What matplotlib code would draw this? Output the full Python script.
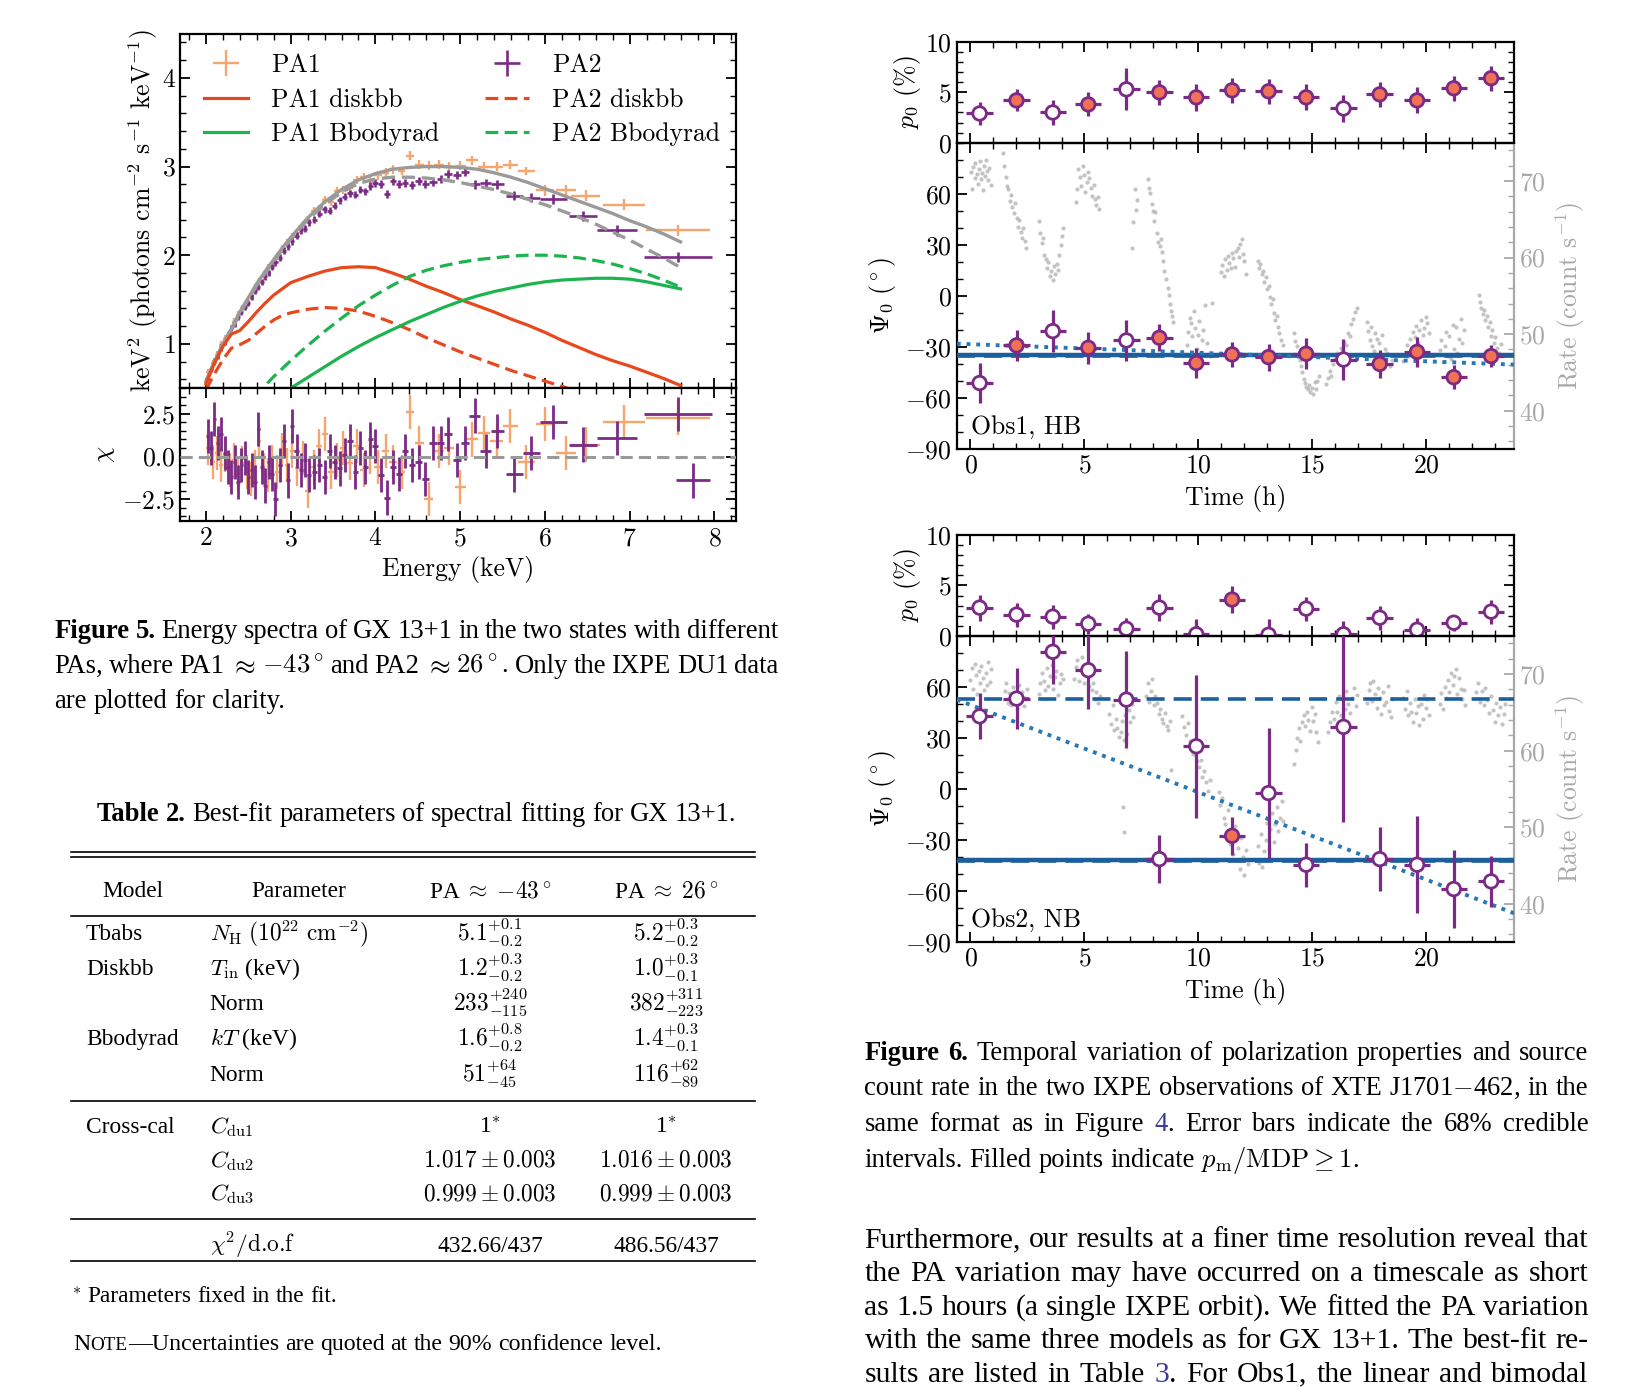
import re

import matplotlib
matplotlib.use('Agg')
import matplotlib.pyplot as plt
from matplotlib.lines import Line2D
from matplotlib.ticker import MultipleLocator

# ---------------- Figure 5: spectra of GX 13+1 ----------------
pa1_e = [2.03, 2.08, 2.13, 2.18, 2.23, 2.28, 2.33, 2.38, 2.43, 2.48, 2.53, 2.58, 2.63, 2.68, 2.73, 2.78,
         2.84, 2.90, 2.96, 3.02, 3.08, 3.14, 3.20, 3.27, 3.34, 3.41, 3.48, 3.55, 3.62, 3.70, 3.78, 3.86,
         3.94, 4.03, 4.12, 4.21, 4.31, 4.41, 4.52, 4.63, 4.75, 4.87, 5.00, 5.14, 5.28, 5.43, 5.59, 5.78,
         6.00, 6.25, 6.48, 6.93, 7.57]
pa1_ew = [0.025, 0.025, 0.025, 0.025, 0.025, 0.025, 0.025, 0.025, 0.025, 0.025, 0.025, 0.025, 0.025, 0.025,
          0.025, 0.025, 0.03, 0.03, 0.03, 0.03, 0.03, 0.03, 0.03, 0.035, 0.035, 0.035, 0.035, 0.035, 0.035,
          0.04, 0.04, 0.04, 0.04, 0.045, 0.045, 0.045, 0.045, 0.045, 0.055, 0.055, 0.055, 0.055, 0.065,
          0.07, 0.075, 0.08, 0.09, 0.1, 0.11, 0.12, 0.17, 0.25, 0.38]
pa1_flux = [0.68, 0.78, 0.88, 0.99, 1.06, 1.12, 1.25, 1.33, 1.40, 1.47, 1.53, 1.63, 1.70, 1.76, 1.86, 1.90,
            1.99, 2.07, 2.14, 2.21, 2.25, 2.34, 2.40, 2.50, 2.52, 2.62, 2.60, 2.72, 2.74, 2.76, 2.85, 2.88,
            2.84, 2.90, 2.93, 2.97, 2.95, 3.12, 3.02, 3.01, 3.02, 3.00, 3.01, 3.07, 3.00, 3.00, 3.02, 2.95,
            2.73, 2.73, 2.67, 2.57, 2.28]
pa1_ferr = [0.04, 0.04, 0.04, 0.04, 0.04, 0.04, 0.04, 0.04, 0.04, 0.04, 0.04, 0.04, 0.04, 0.04, 0.04, 0.04,
            0.04, 0.04, 0.04, 0.04, 0.045, 0.045, 0.045, 0.045, 0.045, 0.045, 0.045, 0.045, 0.045, 0.045,
            0.045, 0.045, 0.045, 0.05, 0.05, 0.05, 0.05, 0.05, 0.05, 0.05, 0.05, 0.05, 0.05, 0.05, 0.05,
            0.05, 0.05, 0.05, 0.06, 0.06, 0.06, 0.06, 0.06]
pa1_chi = [0.5, -0.3, 0.2, -0.5, 0.1, -0.8, -0.2, -1.0, -0.4, -0.9, -1.3, -0.6, 0.9, -0.8, -1.1, -0.3,
           -0.9, 0.4, -0.5, 0.3, -0.7, -0.1, -2.0, -0.6, 0.6, 1.3, -0.9, -0.2, 0.5, -0.4, 0.6, -0.8,
           0.0, -0.6, 0.3, -0.3, -0.9, 2.6, 0.8, -2.5, 0.3, 0.5, -1.8, 1.0, 1.4, 0.9, 1.8, -0.3,
           1.9, 0.2, 0.7, 2.0, 2.25]

pa2_e = [2.02, 2.06, 2.10, 2.14, 2.18, 2.22, 2.26, 2.30, 2.34, 2.38, 2.42, 2.46, 2.50, 2.54, 2.58, 2.62,
         2.66, 2.70, 2.74, 2.78, 2.82, 2.87, 2.92, 2.97, 3.02, 3.07, 3.12, 3.17, 3.22, 3.28, 3.34, 3.40,
         3.46, 3.52, 3.58, 3.64, 3.70, 3.76, 3.82, 3.88, 3.94, 4.00, 4.07, 4.14, 4.21, 4.28, 4.35, 4.43,
         4.51, 4.59, 4.68, 4.77, 4.86, 4.96, 5.06, 5.17, 5.30, 5.44, 5.64, 5.84, 6.10, 6.45, 6.85, 7.57]
pa2_ew = [0.02, 0.02, 0.02, 0.02, 0.02, 0.02, 0.02, 0.02, 0.02, 0.02, 0.02, 0.02, 0.02, 0.02, 0.02, 0.02,
          0.02, 0.02, 0.02, 0.02, 0.025, 0.025, 0.025, 0.025, 0.025, 0.025, 0.025, 0.025, 0.025, 0.03,
          0.03, 0.03, 0.03, 0.03, 0.03, 0.03, 0.03, 0.03, 0.03, 0.03, 0.03, 0.035, 0.035, 0.035, 0.035,
          0.035, 0.035, 0.035, 0.045, 0.045, 0.045, 0.045, 0.045, 0.045, 0.05, 0.06, 0.065, 0.08, 0.1,
          0.1, 0.16, 0.17, 0.24, 0.4]
pa2_flux = [0.62, 0.72, 0.80, 0.86, 0.96, 1.02, 1.10, 1.18, 1.22, 1.30, 1.36, 1.42, 1.46, 1.53, 1.60, 1.64,
            1.70, 1.76, 1.80, 1.87, 1.92, 1.97, 2.05, 2.10, 2.16, 2.22, 2.28, 2.30, 2.37, 2.40, 2.47, 2.52,
            2.50, 2.56, 2.62, 2.66, 2.70, 2.68, 2.74, 2.72, 2.78, 2.82, 2.80, 2.69, 2.84, 2.80, 2.82, 2.79,
            2.84, 2.80, 2.83, 2.86, 2.92, 2.90, 2.94, 2.80, 2.81, 2.80, 2.67, 2.65, 2.63, 2.44, 2.28, 1.98]
pa2_ferr = [0.035, 0.035, 0.035, 0.035, 0.035, 0.035, 0.035, 0.035, 0.035, 0.035, 0.035, 0.035, 0.035,
            0.035, 0.035, 0.035, 0.035, 0.035, 0.035, 0.035, 0.04, 0.04, 0.04, 0.04, 0.04, 0.04, 0.04, 0.04,
            0.04, 0.04, 0.04, 0.04, 0.04, 0.04, 0.04, 0.04, 0.04, 0.04, 0.04, 0.04, 0.045, 0.045, 0.045,
            0.045, 0.045, 0.045, 0.045, 0.045, 0.045, 0.045, 0.045, 0.045, 0.045, 0.045, 0.05, 0.05, 0.05,
            0.05, 0.05, 0.05, 0.055, 0.055, 0.06, 0.06]
pa2_chi = [1.2, 0.5, 2.2, 0.8, 1.3, 0.2, -0.6, -1.2, -0.3, -1.5, -0.5, -0.1, -1.2, -0.8, -1.5, 1.6,
           -0.6, -1.7, -0.3, -1.0, -2.5, -0.5, 0.9, -1.4, 1.8, 0.3, -0.8, -0.2, -1.1, -0.9, -0.5, -1.2,
           0.3, -0.3, -0.7, 0.1, 0.9, -0.9, 0.5, -0.6, 1.0, 0.6, -1.1, -2.4, -0.6, -1.0, 0.3, -0.5,
           -0.3, -1.3, 0.8, 0.8, 1.3, -0.2, 0.8, 2.4, 0.3, 1.5, -1.05, 0.2, 2.0, 0.7, 1.1, 2.5]
# one more PA2 residual bin at the top end
pa2_chi_e = pa2_e + [7.75]
pa2_chi_ew = pa2_ew + [0.2]
pa2_chi_v = pa2_chi + [-1.4]

model_e = [2.0, 2.1, 2.2, 2.3, 2.4, 2.5, 2.6, 2.7, 2.8, 2.9, 3.0, 3.2, 3.4, 3.6, 3.8, 4.0, 4.2, 4.4, 4.6,
           4.8, 5.0, 5.2, 5.4, 5.6, 5.8, 6.0, 6.2, 6.4, 6.6, 6.8, 7.0, 7.2, 7.4, 7.6]
pa1_total = [0.58, 0.80, 1.00, 1.17, 1.36, 1.52, 1.68, 1.82, 1.95, 2.08, 2.20, 2.42, 2.60, 2.74, 2.85, 2.92,
             2.97, 2.99, 3.00, 3.00, 2.99, 2.97, 2.93, 2.88, 2.82, 2.75, 2.68, 2.61, 2.54, 2.47, 2.39, 2.32,
             2.24, 2.15]
pa2_total = [0.56, 0.78, 0.98, 1.15, 1.34, 1.50, 1.66, 1.80, 1.93, 2.06, 2.18, 2.40, 2.57, 2.71, 2.81, 2.86,
             2.88, 2.88, 2.87, 2.85, 2.82, 2.78, 2.74, 2.69, 2.63, 2.57, 2.50, 2.43, 2.35, 2.26, 2.17, 2.07,
             1.97, 1.86]
pa1_disk = [0.55, 0.78, 0.97, 1.11, 1.15, 1.25, 1.36, 1.46, 1.55, 1.62, 1.69, 1.76, 1.82, 1.86, 1.87, 1.86,
            1.80, 1.73, 1.65, 1.58, 1.50, 1.43, 1.36, 1.28, 1.21, 1.13, 1.04, 0.96, 0.88, 0.81, 0.75, 0.68,
            0.61, 0.53]
pa2_disk = [0.48, 0.66, 0.82, 0.95, 0.99, 1.04, 1.12, 1.20, 1.27, 1.32, 1.35, 1.39, 1.41, 1.40, 1.37, 1.31,
            1.24, 1.16, 1.07, 0.99, 0.91, 0.84, 0.77, 0.70, 0.64, 0.58, 0.52, 0.46, 0.41, 0.36, 0.32, 0.28,
            0.25, 0.22]
pa1_bb = [0.02, 0.04, 0.07, 0.10, 0.14, 0.19, 0.25, 0.31, 0.37, 0.43, 0.50, 0.62, 0.74, 0.86, 0.97, 1.07,
          1.16, 1.25, 1.33, 1.41, 1.48, 1.54, 1.59, 1.63, 1.67, 1.70, 1.72, 1.73, 1.74, 1.74, 1.73, 1.70,
          1.66, 1.62]
pa2_bb = [0.05, 0.09, 0.15, 0.21, 0.28, 0.35, 0.42, 0.53, 0.63, 0.72, 0.81, 0.98, 1.14, 1.29, 1.43, 1.55,
          1.66, 1.76, 1.83, 1.88, 1.92, 1.95, 1.97, 1.99, 2.00, 2.00, 1.99, 1.97, 1.94, 1.90, 1.85, 1.79,
          1.72, 1.64]

# ---------------- Figure 6: XTE J1701-462 time resolved ----------------
bin_t = [0.40, 2.02, 3.61, 5.17, 6.84, 8.29, 9.91, 11.48, 13.08, 14.73, 16.37, 17.96, 19.60, 21.21, 22.85]
bin_terr = [0.58, 0.58, 0.58, 0.58, 0.58, 0.58, 0.58, 0.58, 0.58, 0.58, 0.58, 0.58, 0.58, 0.58, 0.58]

obs1_p0 = [2.9, 4.2, 3.0, 3.8, 5.3, 5.0, 4.5, 5.2, 5.1, 4.5, 3.4, 4.8, 4.2, 5.4, 6.4]
obs1_p0_err = [1.1, 1.1, 1.2, 1.2, 2.1, 1.25, 1.35, 1.25, 1.25, 1.3, 1.3, 1.25, 1.3, 1.25, 1.25]
obs1_psi = [-51.2, -29.1, -20.7, -30.5, -26.2, -24.6, -39.4, -34.4, -36.0, -34.0, -37.4, -40.0, -32.9, -47.8, -35.4]
obs1_psi_err = [12, 9, 12.5, 9.5, 12, 8, 9, 7.5, 8, 9, 12, 8, 9, 7, 6.5]
obs1_filled = [0, 1, 0, 1, 0, 1, 1, 1, 1, 1, 0, 1, 1, 1, 1]

obs2_p0 = [2.8, 2.1, 1.9, 1.2, 0.7, 2.8, 0.15, 3.6, 0.1, 2.7, 0.15, 1.8, 0.6, 1.3, 2.4]
obs2_p0_err = [1.3, 1.2, 1.2, 1.0, 1.1, 1.35, 1.5, 1.3, 1.6, 1.2, 1.3, 1.2, 1.2, 0.8, 1.2]
obs2_psi = [42.7, 53.1, 80.6, 69.8, 52.5, -41.2, 25.1, -27.5, -2.4, -44.5, 36.5, -41.2, -44.5, -58.8, -54.3]
obs2_psi_err = [13.5, 18, 19, 23, 28.5, 14, 42, 11, 38, 13, 56, 19, 28.6, 23, 15]
obs2_filled = [0, 0, 0, 0, 0, 0, 0, 1, 0, 0, 0, 0, 0, 0, 0]

# model fits: constant (solid), bimodal (dashed), linear (dotted, end points)
obs1_const = -34.6
obs1_bimodal = [-35.4]
obs2_const = -42.0
obs2_bimodal = [53.0, -42.6]
lin_t = [-0.6, 23.85]
obs1_lin = [-28.1, -40.4]
obs2_lin = [52.5, -73.0]

# light curves (count rate)
lc1_t = [0.02, 0.08, 0.13, 0.18, 0.22, 0.27, 0.32, 0.36, 0.41, 0.46, 0.50, 0.55, 0.60, 0.64, 0.69, 0.74, 0.78,
         0.83, 0.88,
         1.42, 1.48, 1.55, 1.60, 1.66, 1.72, 1.78, 1.84, 1.90, 1.96, 2.02, 2.08, 2.14, 2.20, 2.26, 2.32, 2.38, 2.44,
         3.00, 3.06, 3.12, 3.18, 3.24, 3.30, 3.36, 3.42, 3.48, 3.54, 3.60, 3.66, 3.72, 3.78, 3.84, 3.90, 3.96,
         4.02, 4.08,
         4.62, 4.68, 4.74, 4.80, 4.86, 4.92, 4.98, 5.04, 5.10, 5.16, 5.22, 5.28, 5.34, 5.40, 5.46, 5.52, 5.58, 5.64,
         7.10, 7.15, 7.20, 7.25, 7.30, 7.80, 7.85, 7.90, 7.95, 8.00, 8.05, 8.10, 8.20, 8.25, 8.30, 8.35, 8.40,
         8.45, 8.50, 8.60, 8.65, 8.70, 8.75, 8.80, 8.85, 8.90,
         9.50, 9.56, 9.62, 9.68, 9.74, 9.80, 9.86, 9.92, 9.98, 10.04, 10.10, 10.16, 10.22, 10.30, 10.40, 10.50, 10.60,
         11.00, 11.06, 11.12, 11.18, 11.24, 11.30, 11.36, 11.42, 11.48, 11.54, 11.60, 11.66, 11.72, 11.78, 11.84,
         11.90, 11.96, 12.02, 12.10,
         12.60, 12.66, 12.72, 12.78, 12.84, 12.90, 12.96, 13.02, 13.08, 13.14, 13.20, 13.26, 13.32, 13.38, 13.44,
         13.50, 13.56, 13.62, 13.70,
         14.20, 14.26, 14.32, 14.38, 14.44, 14.50, 14.56, 14.62, 14.68, 14.74, 14.80, 14.86, 14.92, 14.98, 15.04,
         15.10, 15.16, 15.22, 15.30,
         15.60, 15.68, 15.76, 15.84, 15.92, 16.00, 16.08, 16.16, 16.24, 16.32, 16.40, 16.48, 16.56, 16.64, 16.72,
         16.80, 16.88, 16.96,
         17.40, 17.46, 17.52, 17.58, 17.64, 17.70, 17.76, 17.82, 17.88, 17.94, 18.00, 18.06, 18.12, 18.20, 18.30,
         18.40, 18.50,
         19.00, 19.07, 19.14, 19.21, 19.28, 19.35, 19.42, 19.49, 19.56, 19.63, 19.70, 19.77, 19.84, 19.91, 19.98,
         20.05, 20.12,
         20.60, 20.67, 20.74, 20.81, 20.88, 20.95, 21.02, 21.09, 21.16, 21.23, 21.30, 21.37, 21.44, 21.51, 21.58,
         21.65,
         22.30, 22.36, 22.42, 22.48, 22.54, 22.60, 22.66, 22.72, 22.78, 22.84, 22.90, 22.96, 23.02, 23.10, 23.20,
         23.30]
lc1_r = [71.2, 69.0, 71.8, 70.4, 72.3, 70.9, 69.6, 71.5, 72.6, 70.2, 71.0, 68.8, 71.9, 70.6, 72.8, 71.3, 70.1,
         71.7, 69.5,
         73.6, 71.9, 70.5, 69.3, 68.9, 67.4, 68.2, 66.6, 65.8, 67.1, 65.2, 64.0, 64.9, 63.3, 62.6, 63.8, 62.1, 61.2,
         64.8, 63.2, 61.9, 62.6, 60.4, 59.8, 58.6, 59.4, 57.6, 58.3, 57.1, 58.9, 57.8, 59.2, 58.4, 60.3, 61.6,
         62.8, 63.9,
         67.2, 68.9, 71.6, 70.5, 69.4, 72.0, 70.8, 68.6, 69.9, 71.2, 70.4, 69.1, 68.0, 69.5, 67.6, 66.9, 67.9, 66.4,
         61.3, 64.6, 68.9, 66.2, 67.5, 70.3, 69.1, 68.4, 67.0, 66.1, 64.8, 65.9, 63.2, 62.0, 61.5, 62.4, 60.7,
         59.6, 58.3, 57.2, 56.0, 55.1, 53.9, 53.0, 52.4, 51.6,
         48.6, 50.3, 52.1, 51.4, 49.7, 53.0, 50.8, 48.1, 49.9, 51.7, 47.6, 49.2, 50.6, 53.8, 48.8, 47.2, 54.1,
         58.1, 59.0, 57.6, 59.8, 58.4, 60.2, 59.3, 58.7, 60.6, 59.9, 58.8, 60.9, 61.3, 60.1, 61.8, 62.4, 60.5,
         59.6, 57.8,
         59.6, 58.7, 59.2, 57.9, 58.3, 56.8, 57.4, 55.9, 56.3, 54.8, 53.9, 54.6, 52.7, 51.8, 52.4, 50.9, 50.1,
         49.3, 48.6,
         50.2, 49.1, 48.4, 47.3, 46.6, 45.8, 45.1, 44.2, 43.6, 43.1, 42.8, 43.4, 42.5, 43.0, 42.2, 43.7, 42.9,
         43.9, 44.6,
         43.5, 44.3, 45.2, 44.6, 46.1, 46.8, 47.5, 46.3, 48.2, 47.9, 49.0, 48.6, 50.1, 49.7, 51.3, 52.0, 52.9, 53.4,
         51.6, 50.4, 49.2, 51.0, 48.5, 47.8, 50.1, 49.4, 46.9, 48.8, 47.2, 49.9, 46.4, 48.1, 47.6, 45.8, 46.6,
         46.5, 47.3, 48.6, 47.1, 49.4, 48.2, 50.3, 49.6, 51.1, 48.8, 50.6, 51.9, 49.9, 50.8, 52.3, 51.5, 50.1,
         47.9, 49.2, 46.4, 48.5, 50.3, 47.1, 49.8, 46.8, 51.2, 48.1, 50.9, 47.6, 49.4, 52.0, 48.9, 50.6,
         55.1, 54.2, 53.4, 52.6, 53.1, 51.8, 52.4, 50.9, 51.6, 49.8, 50.5, 48.9, 49.6, 48.2, 47.6, 48.7]

lc2_t = [0.00, 0.06, 0.12, 0.18, 0.24, 0.30, 0.36, 0.42, 0.48, 0.54, 0.60, 0.66, 0.72, 0.78, 0.84, 0.90,
         1.50, 1.57, 1.64, 1.71, 1.78, 1.85, 1.92, 1.99, 2.06, 2.13, 2.20, 2.27, 2.34, 2.41, 2.48,
         3.00, 3.07, 3.14, 3.21, 3.28, 3.35, 3.42, 3.49, 3.56, 3.63, 3.70, 3.77, 3.84, 3.91, 3.98, 4.05,
         4.55, 4.62, 4.69, 4.76, 4.83, 4.90, 4.97, 5.04, 5.11, 5.18, 5.25, 5.32, 5.39, 5.46, 5.53, 5.60, 5.67,
         6.10, 6.17, 6.24, 6.31, 6.38, 6.45, 6.52, 6.59, 6.66, 6.73, 6.80, 6.87, 6.94, 7.01, 7.08, 7.15, 6.70, 6.75,
         7.70, 7.77, 7.84, 7.91, 7.98, 8.05, 8.12, 8.19, 8.26, 8.33, 8.40, 8.47, 8.54, 8.61, 8.68, 8.75, 8.80,
         9.30, 9.38, 9.46, 9.54, 9.62, 9.70, 9.78, 9.86, 9.94, 10.02, 10.10, 10.18, 10.26, 10.34, 10.42, 10.50,
         10.90, 10.97, 11.04, 11.11, 11.18, 11.25, 11.32, 11.39, 11.46, 11.53, 11.60, 11.67, 11.74, 11.81, 11.88,
         11.95, 12.02, 12.09, 12.16,
         12.60, 12.67, 12.74, 12.81, 12.88, 12.95, 13.02, 13.09, 13.16, 13.23, 13.30, 13.37, 13.44, 13.51, 13.58,
         13.65, 13.72,
         14.20, 14.27, 14.34, 14.41, 14.48, 14.55, 14.62, 14.69, 14.76, 14.83, 14.90, 14.97, 15.04, 15.11, 15.18,
         15.25,
         15.70, 15.78, 15.86, 15.94, 16.02, 16.10, 16.18, 16.26, 16.34, 16.42, 16.50, 16.58, 16.66, 16.74, 16.82,
         16.90, 16.98,
         17.40, 17.47, 17.54, 17.61, 17.68, 17.75, 17.82, 17.89, 17.96, 18.03, 18.10, 18.17, 18.24, 18.31, 18.38,
         18.45, 18.52,
         19.00, 19.07, 19.14, 19.21, 19.28, 19.35, 19.42, 19.49, 19.56, 19.63, 19.70, 19.77, 19.84, 19.91, 19.98,
         20.05, 20.12,
         20.60, 20.67, 20.74, 20.81, 20.88, 20.95, 21.02, 21.09, 21.16, 21.23, 21.30, 21.37, 21.44, 21.51, 21.58,
         21.65, 21.72,
         22.20, 22.28, 22.36, 22.44, 22.52, 22.60, 22.68, 22.76, 22.84, 22.92, 23.00, 23.08, 23.16, 23.24, 23.32,
         23.40, 23.48]
lc2_r = [69.2, 70.8, 68.1, 71.3, 69.9, 67.4, 70.4, 68.8, 71.0, 69.5, 67.9, 70.1, 68.6, 71.6, 69.0, 70.7,
         67.8, 68.9, 66.2, 67.5, 65.9, 68.3, 66.8, 67.1, 65.4, 68.6, 66.5, 67.7, 65.8, 66.9, 68.1,
         67.4, 68.8, 70.2, 69.1, 67.9, 70.8, 68.5, 69.7, 71.2, 68.1, 69.6, 70.4, 67.3, 68.9, 70.0, 69.3,
         69.4, 70.9, 71.8, 69.1, 70.5, 72.2, 68.8, 70.1, 71.3, 68.4, 69.7, 67.9, 68.9, 66.8, 67.6, 66.2, 67.1,
         64.8, 63.5, 65.9, 62.7, 64.1, 63.0, 61.8, 62.5, 63.9, 61.4, 64.6, 62.2, 65.3, 63.7, 66.1, 64.4, 52.6, 49.4,
         67.2, 68.9, 66.4, 67.8, 69.3, 65.9, 67.1, 66.2, 64.8, 65.5, 64.1, 63.6, 64.9, 63.2, 62.7, 63.9, 57.5,
         64.5, 63.1, 62.0, 63.6, 61.2, 60.4, 59.6, 60.9, 58.7, 57.9, 58.8, 56.5, 57.3, 55.9, 54.8, 56.2,
         54.6, 52.9, 53.8, 51.2, 50.4, 49.1, 52.3, 47.8, 48.9, 46.5, 50.2, 45.7, 47.3, 44.6, 48.6, 46.1, 43.8,
         47.0, 45.2,
         47.5, 45.3, 49.1, 44.8, 46.9, 48.4, 50.6, 47.2, 49.8, 51.9, 48.1, 50.4, 52.6, 49.5, 51.2, 53.4, 50.8,
         58.2, 60.1, 61.7, 62.9, 61.3, 63.8, 64.6, 63.2, 65.1, 64.0, 62.6, 65.7, 63.9, 64.8, 62.4, 61.1,
         62.4, 63.8, 65.1, 64.2, 66.3, 65.0, 67.1, 64.6, 66.7, 65.5, 67.8, 66.1, 64.9, 66.9, 68.2, 65.8, 67.3,
         66.2, 67.9, 68.8, 66.5, 69.1, 67.4, 65.6, 68.2, 66.9, 64.8, 67.7, 65.9, 66.4, 68.5, 65.2, 64.4, 66.8,
         66.9, 65.4, 67.8, 64.6, 66.2, 65.1, 63.8, 66.7, 64.9, 65.8, 63.4, 66.1, 64.2, 67.3, 65.6, 66.8, 64.7,
         66.1, 67.5, 65.4, 68.3, 66.9, 69.2, 67.7, 70.1, 68.6, 69.8, 70.6, 67.4, 69.5, 68.1, 66.8, 67.9, 65.9,
         67.6, 68.9, 66.4, 67.8, 65.9, 68.2, 66.6, 64.9, 67.1, 65.3, 63.8, 66.2, 64.6, 65.7, 63.5, 64.8, 66.1]

# ---------------- Table 2 ----------------
tab_model = ['Tbabs', 'Diskbb', '', 'Bbodyrad', '', 'Cross-cal', '', '', '']
tab_param = [r'$N_{\rm H}$ $(10^{22}\ {\rm cm}^{-2})$', r'$T_{\rm in}$ (keV)', 'Norm', r'$kT$ (keV)', 'Norm',
             r'$C_{\rm du1}$', r'$C_{\rm du2}$', r'$C_{\rm du3}$', r'$\chi^2/$d.o.f']
tab_pa1 = [r'$5.1^{+0.1}_{-0.2}$', r'$1.2^{+0.3}_{-0.2}$', r'$233^{+240}_{-115}$', r'$1.6^{+0.8}_{-0.2}$',
           r'$51^{+64}_{-45}$', r'1$^{*}$', r'$1.017 \pm 0.003$', r'$0.999 \pm 0.003$', '432.66/437']
tab_pa2 = [r'$5.2^{+0.3}_{-0.2}$', r'$1.0^{+0.3}_{-0.1}$', r'$382^{+311}_{-223}$', r'$1.4^{+0.3}_{-0.1}$',
           r'$116^{+62}_{-89}$', r'1$^{*}$', r'$1.016 \pm 0.003$', r'$0.999 \pm 0.003$', '486.56/437']
tab_head = ['Model', 'Parameter', r'PA $\approx$ $-43^\circ$', r'PA $\approx$ $26^\circ$']

# colours
C_PA1 = '#f5a56e'
C_PA2 = '#7b2a85'
C_DISK = '#e8481e'
C_BB = '#1db34f'
C_TOT = '#9a9a9a'
C_FIT = '#1c5e9e'
C_DOT = '#2878b6'
C_FILL = '#f07155'
C_RATE = '#b4b4b4'
C_LINK = '#3a3a9c'

plt.rcParams['font.family'] = 'cmr10'
plt.rcParams['mathtext.fontset'] = 'cm'
plt.rcParams['axes.formatter.use_mathtext'] = True
plt.rcParams['font.size'] = 18.5
plt.rcParams['axes.linewidth'] = 1.6

FS = 18.5
W, H = 1567.0, 1322.0   # page layout units


def X(x):
    return x / W


def Y(y):
    return 1 - y / H


def box(x0, y0, x1, y1):
    return [X(x0), Y(y1), X(x1) - X(x0), Y(y0) - Y(y1)]


def style(ax):
    ax.tick_params(which='both', direction='in', top=True, right=True, labelsize=FS)
    ax.tick_params(which='major', length=7, width=1.3)
    ax.tick_params(which='minor', length=4, width=1.0)


fig = plt.figure(figsize=(16.44, 13.87), dpi=100)
renderer = fig.canvas.get_renderer()
FIG_W = 1644.0

# ---- Figure 5 ----
ax1 = fig.add_axes(box(172, 32, 702, 370))
ax2 = fig.add_axes(box(172, 370, 702, 497), sharex=ax1)

h1 = ax1.errorbar(pa1_e, pa1_flux, xerr=pa1_ew, yerr=pa1_ferr, fmt='none', ecolor=C_PA1, elinewidth=1.7)
h2 = ax1.errorbar(pa2_e, pa2_flux, xerr=pa2_ew, yerr=pa2_ferr, fmt='none', ecolor=C_PA2, elinewidth=1.9)
ax1.plot(model_e, pa1_total, color=C_TOT, lw=2.4)
ax1.plot(model_e, pa2_total, color=C_TOT, lw=2.4, ls=(0, (4, 2)))
l1, = ax1.plot(model_e, pa1_disk, color=C_DISK, lw=2.3)
l2, = ax1.plot(model_e, pa2_disk, color=C_DISK, lw=2.3, ls=(0, (4, 2)))
l3, = ax1.plot(model_e, pa1_bb, color=C_BB, lw=2.3)
l4, = ax1.plot(model_e, pa2_bb, color=C_BB, lw=2.3, ls=(0, (4, 2)))
ax1.legend([h1, l1, l3, h2, l2, l4],
           ['PA1', 'PA1 diskbb', 'PA1 Bbodyrad', 'PA2', 'PA2 diskbb', 'PA2 Bbodyrad'],
           ncol=2, loc='upper left', bbox_to_anchor=(0.01, 0.995), frameon=False, fontsize=FS,
           handlelength=1.7, handletextpad=0.9, columnspacing=1.8, labelspacing=0.42, borderaxespad=0.3)
ax1.set_ylim(0.5, 4.5)
ax1.set_xlim(1.7, 8.26)
ax1.yaxis.set_major_locator(MultipleLocator(1))
ax1.yaxis.set_minor_locator(MultipleLocator(0.2))
ax1.xaxis.set_major_locator(MultipleLocator(1))
ax1.xaxis.set_minor_locator(MultipleLocator(0.2))
style(ax1)
ax1.tick_params(labelbottom=False)
ax1.set_ylabel(r'keV$^2$ (photons cm$^{-2}$ s$^{-1}$ keV$^{-1}$)', fontsize=FS)
ax1.yaxis.set_label_coords(-0.037, 0.5)

ax2.errorbar(pa1_e, pa1_chi, xerr=pa1_ew, yerr=1, fmt='none', ecolor=C_PA1, elinewidth=1.7)
ax2.errorbar(pa2_chi_e, pa2_chi_v, xerr=pa2_chi_ew, yerr=1, fmt='none', ecolor=C_PA2, elinewidth=2.0)
ax2.axhline(0, color=C_TOT, lw=2.2, ls=(0, (4, 2)), zorder=5)
ax2.set_ylim(-3.8, 4.0)
ax2.yaxis.set_major_locator(MultipleLocator(2.5))
ax2.yaxis.set_minor_locator(MultipleLocator(0.5))
style(ax2)
ax2.set_ylabel(r'$\chi$', fontsize=FS)
ax2.yaxis.set_label_coords(-0.115, 0.5)
ax2.set_xlabel('Energy (keV)', fontsize=FS)
ax2.xaxis.set_label_coords(0.5, -0.26)


# ---- Figure 6 ----
def pol_panels(top, p0, p0err, psi, psierr, filled, lc_t, lc_r, const, bimod, lin, tag):
    axp = fig.add_axes(box(912, top, 1443, top + 96))
    axa = fig.add_axes(box(912, top + 96, 1443, top + 388), sharex=axp)
    axr = axa.twinx()
    axa.set_zorder(axr.get_zorder() + 1)
    axa.patch.set_visible(False)

    axr.scatter(lc_t, lc_r, s=9, color=C_RATE, alpha=0.8, lw=0)
    axr.set_ylim(35, 75)
    axr.yaxis.set_major_locator(MultipleLocator(10))
    axr.yaxis.set_minor_locator(MultipleLocator(2))
    axr.tick_params(which='both', direction='in', colors='#a8a8a8', labelsize=FS)
    axr.tick_params(which='major', length=7, width=1.3)
    axr.tick_params(which='minor', length=4, width=1.0)
    for s in ['left', 'top', 'bottom']:
        axr.spines[s].set_visible(False)
    axr.spines['right'].set_color('#a8a8a8')
    axr.set_ylabel(r'Rate (count s$^{-1}$)', color='#a8a8a8', fontsize=FS)
    axr.yaxis.set_label_coords(1.072, 0.5)

    fill = [C_FILL if f else 'white' for f in filled]
    for ax, v, e in [(axp, p0, p0err), (axa, psi, psierr)]:
        ax.errorbar(bin_t, v, xerr=bin_terr, yerr=e, fmt='none', ecolor=C_PA2, elinewidth=2.3, zorder=4)
        ax.scatter(bin_t, v, s=95, c=fill, edgecolors=C_PA2, linewidths=2.0, zorder=5)

    axa.axhline(const, color=C_FIT, lw=3.2, zorder=3)
    for b in bimod:
        axa.axhline(b, color=C_FIT, lw=2.6, ls=(0, (5, 2.5)), zorder=3)
    axa.plot(lin_t, lin, color=C_DOT, lw=2.8, ls=(0, (1, 1.5)), zorder=3)

    axp.set_ylim(0, 10)
    axp.yaxis.set_major_locator(MultipleLocator(5))
    axp.yaxis.set_minor_locator(MultipleLocator(1))
    style(axp)
    axp.tick_params(labelbottom=False)
    axp.set_ylabel(r'$p_0$ (%)', fontsize=FS)
    axp.yaxis.set_label_coords(-0.06, 0.5)

    axa.set_xlim(-0.6, 23.85)
    axa.set_ylim(-90, 90)
    axa.set_yticks([-90, -60, -30, 0, 30, 60])
    axa.yaxis.set_minor_locator(MultipleLocator(10))
    axa.xaxis.set_major_locator(MultipleLocator(5))
    axa.xaxis.set_minor_locator(MultipleLocator(1))
    axa.tick_params(which='both', direction='in', top=True, right=False, labelsize=FS)
    axa.tick_params(which='major', length=7, width=1.3)
    axa.tick_params(which='minor', length=4, width=1.0)
    axa.spines['right'].set_visible(False)
    axa.set_ylabel(r'$\Psi_0\ (^\circ)$', fontsize=FS)
    axa.yaxis.set_label_coords(-0.105, 0.5)
    axa.set_xlabel('Time (h)', fontsize=FS)
    axa.xaxis.set_label_coords(0.5, -0.117)
    axa.text(0.026, 0.05, tag, transform=axa.transAxes, fontsize=FS, va='baseline', zorder=6)


pol_panels(40, obs1_p0, obs1_p0_err, obs1_psi, obs1_psi_err, obs1_filled, lc1_t, lc1_r,
           obs1_const, obs1_bimodal, obs1_lin, 'Obs1, HB')
pol_panels(510, obs2_p0, obs2_p0_err, obs2_psi, obs2_psi_err, obs2_filled, lc2_t, lc2_r,
           obs2_const, obs2_bimodal, obs2_lin, 'Obs2, NB')

# ---- running text (captions, table, body) ----
TOKEN = re.compile(r'(?:\$[^$]*\$|[^\s$])+')


def text_line(parts, x0, yb, size, right=None, center=None):
    pieces = []
    trailing = False
    for s, kw in parts:
        for m in TOKEN.finditer(s):
            i = m.start()
            gap = s[i - 1] == ' ' if i > 0 else trailing
            pieces.append((m.group(), kw, gap and len(pieces) > 0))
        trailing = s.endswith(' ')
    arts, widths = [], []
    for word, kw, gap in pieces:
        props = dict(fontsize=size, family='Liberation Serif', math_fontfamily='cm', va='baseline')
        props.update(kw)
        t = fig.text(0, Y(yb), word, **props)
        arts.append(t)
        widths.append(t.get_window_extent(renderer).width / FIG_W)
    ngap = sum(1 for p in pieces if p[2])
    space = 0.25 * size * 100 / 72 / FIG_W
    x = X(x0)
    if right is not None and ngap:
        space = (X(right) - X(x0) - sum(widths)) / ngap
    if center is not None:
        x = X(center) - (sum(widths) + ngap * space) / 2
    for t, w, p in zip(arts, widths, pieces):
        if p[2]:
            x += space
        t.set_x(x)
        x += w


BOLD = {'fontweight': 'bold'}
BLUE = {'color': C_LINK}
CAP = 19.2
BODY = 21.4

text_line([('Figure 5.', BOLD), (' Energy spectra of GX 13+1 in the two states with different', {})],
          52, 608, CAP, right=742)
text_line([(r'PAs, where PA1 $\approx$ $-43^\circ$ and PA2 $\approx$ $26^\circ$. Only the IXPE DU1 data', {})],
          52, 641, CAP, right=742)
text_line([('are plotted for clarity.', {})], 52, 675, CAP)

text_line([('Table 2.', BOLD), (' Best-fit parameters of spectral fitting for GX 13+1.', {})],
          90, 783, CAP, center=397)

TS = 16.8
for yy in [812, 817, 873, 1049, 1162, 1202]:
    fig.add_artist(Line2D([X(68), X(720)], [Y(yy), Y(yy)], color='black', lw=1.2))
for txt, xc in zip(tab_head, [127, 285, 467, 635]):
    fig.text(X(xc), Y(855), txt, fontsize=TS, family='Liberation Serif', math_fontfamily='cm',
             ha='center', va='baseline')
row_y = [896, 929, 963, 996, 1030, 1080, 1112, 1144, 1193]
for yy, m, p, a, b in zip(row_y, tab_model, tab_param, tab_pa1, tab_pa2):
    for txt, xx, ha in [(m, 82, 'left'), (p, 200, 'left'), (a, 467, 'center'), (b, 635, 'center')]:
        if txt:
            fam = 'cmr10' if txt.endswith('d.o.f') else 'Liberation Serif'
            fig.text(X(xx), Y(yy), txt, fontsize=TS, family=fam, math_fontfamily='cm',
                     ha=ha, va='baseline')

text_line([(r'$^{*}$', {}), (' Parameters fixed in the fit.', {})], 68, 1241, TS)
text_line([('N', {}), ('OTE', {'fontsize': 13.8}),
           ('\u2014Uncertainties are quoted at the 90% confidence level.', {})], 70, 1287, 17.2)

text_line([('Figure 6.', BOLD), (' Temporal variation of polarization properties and source', {})],
          824, 1010, CAP, right=1514)
text_line([(r'count rate in the two IXPE observations of XTE J1701$-$462, in the', {})],
          824, 1044, CAP, right=1514)
text_line([('same format as in Figure ', {}), ('4', BLUE), ('. Error bars indicate the 68% credible', {})],
          824, 1078, CAP, right=1514)
text_line([(r'intervals. Filled points indicate $p_{\rm m}/{\rm MDP} \geq 1$.', {})], 824, 1112, CAP)

body = ['Furthermore, our results at a finer time resolution reveal that',
        'the PA variation may have occurred on a timescale as short',
        'as 1.5 hours (a single IXPE orbit). We fitted the PA variation',
        'with the same three models as for GX 13+1. The best-fit re-']
for k, line in enumerate(body):
    text_line([(line, {})], 824, 1189 + 32 * k, BODY, right=1514)
text_line([('sults are listed in Table ', {}), ('3', BLUE), ('. For Obs1, the linear and bimodal', {})],
          824, 1317, BODY, right=1514)

fig.savefig('out.png', dpi=100)
